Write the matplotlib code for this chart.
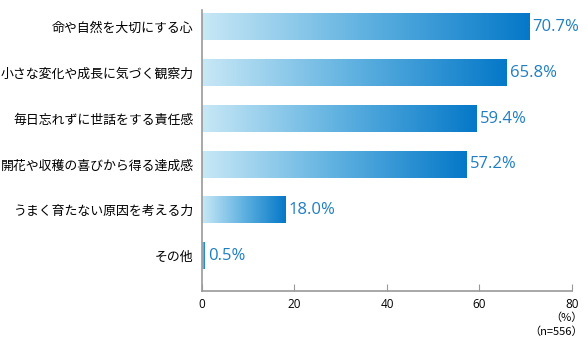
import matplotlib
matplotlib.use('Agg')
import matplotlib.pyplot as plt
import numpy as np
from matplotlib.colors import LinearSegmentedColormap

plt.rcParams['font.family'] = ['Noto Sans CJK JP', 'DejaVu Sans']

# data
labels = ['命や自然を大切にする心', '小さな変化や成長に気づく観察力', '毎日忘れずに世話をする責任感',
          '開花や収穫の喜びから得る達成感', 'うまく育たない原因を考える力', 'その他']
values = [70.7, 65.8, 59.4, 57.2, 18.0, 0.5]
xticks = [0, 20, 40, 60, 80]

fig = plt.figure(figsize=(5.88, 3.43), dpi=100)
ax = fig.add_axes([0.3435, 0.1516, 0.6293, 0.8194])

cmap = LinearSegmentedColormap.from_list('bar', ['#c8e8f6', '#5fb1e0', '#0578c8'])
grad = np.linspace(0, 1, 256).reshape(1, -1)
h = 0.57
for i, v in enumerate(values):
    ax.imshow(grad, cmap=cmap, aspect='auto', extent=[0, v, i + h / 2, i - h / 2],
              interpolation='bilinear', zorder=2)
    ax.text(v + 0.8, i, f'{v:.1f}%', va='center', ha='left', fontsize=12,
            color='#1f7ec2', family=['Open Sans', 'DejaVu Sans'])

ax.set_xlim(0, 80)
ax.set_ylim(5.76, -0.37)
ax.set_yticks(range(len(labels)))
ax.set_yticklabels(labels, fontsize=9.3)
ax.tick_params(axis='y', length=0, pad=6)
ax.set_xticks(xticks)
ax.set_xticklabels([str(t) for t in xticks], fontsize=8.5, family=['Open Sans', 'DejaVu Sans'])
ax.tick_params(axis='x', direction='in', length=5, color='#999999', pad=5)
for s in ['top', 'right']:
    ax.spines[s].set_visible(False)
for s in ['left', 'bottom']:
    ax.spines[s].set_color('#999999')
    ax.spines[s].set_linewidth(1.2)

fig.text(583 / 588, 1 - 318 / 343, '（%）', ha='right', va='center', fontsize=8)
fig.text(583 / 588, 1 - 332 / 343, '（n=556）', ha='right', va='center', fontsize=8)

fig.savefig('out.png', dpi=100)
